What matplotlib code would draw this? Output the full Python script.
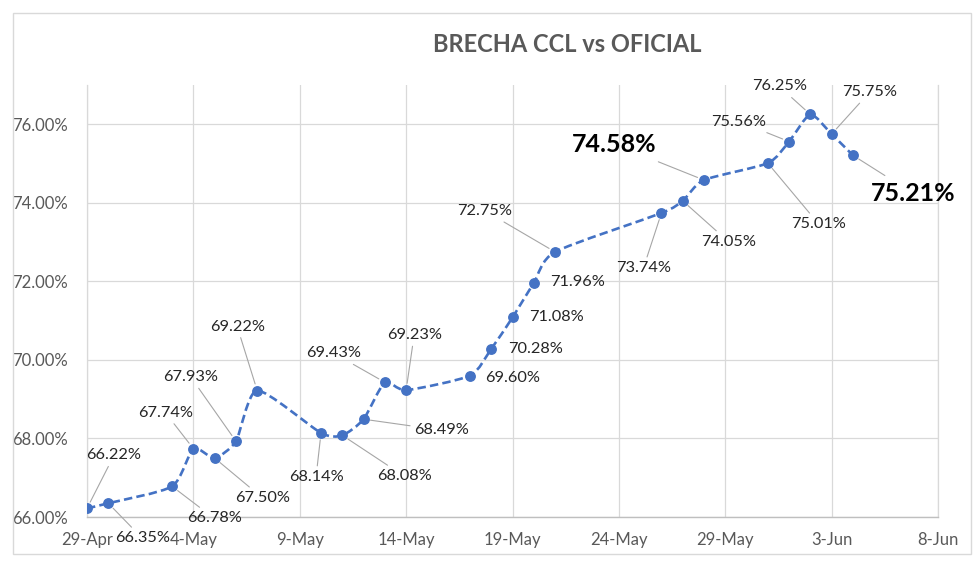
import datetime as dt
import numpy as np
import matplotlib
matplotlib.use("Agg")
import matplotlib.pyplot as plt
import matplotlib.dates as mdates
from matplotlib.path import Path
from matplotlib.patches import PathPatch, Rectangle

# ---------------- data ----------------
dates = ["2021-04-29", "2021-04-30", "2021-05-03", "2021-05-04", "2021-05-05",
         "2021-05-06", "2021-05-07", "2021-05-10", "2021-05-11", "2021-05-12",
         "2021-05-13", "2021-05-14", "2021-05-17", "2021-05-18", "2021-05-19",
         "2021-05-20", "2021-05-21", "2021-05-26", "2021-05-27", "2021-05-28",
         "2021-05-31", "2021-06-01", "2021-06-02", "2021-06-03", "2021-06-04"]
brecha = [66.22, 66.35, 66.78, 67.74, 67.50, 67.93, 69.22, 68.14, 68.08, 68.49,
          69.43, 69.23, 69.60, 70.28, 71.08, 71.96, 72.75, 73.74, 74.05, 74.58,
          75.01, 75.56, 76.25, 75.75, 75.21]
tick_dates = ["2021-04-29", "2021-05-04", "2021-05-09", "2021-05-14", "2021-05-19",
              "2021-05-24", "2021-05-29", "2021-06-03", "2021-06-08"]
tick_labels = ["29-Apr", "4-May", "9-May", "14-May", "19-May",
               "24-May", "29-May", "3-Jun", "8-Jun"]
y_ticks = [66, 68, 70, 72, 74, 76]
title = "BRECHA CCL vs OFICIAL"
highlight = [19, 24]  # labels shown big and bold

# label offsets in pixels (dx, dy) relative to each point
label_off = [(27, 53), (34, -35), (42, -32), (-28, 36), (48, -40), (-45, 64),
             (-20, 64), (-5, -44), (62, -41), (78, -11), (-51, 29), (8, 55),
             (43, -2), (44, 0), (44, 0), (44, 1), (-70, 41), (-18, -55),
             (46, -41), (-90, 36), (51, -61), (-50, 20), (-31, 28), (38, 42),
             (60, -38)]
no_leader = {12, 13, 14, 15}

# ---------------- figure ----------------
FONT = ["Lato", "DejaVu Sans"]
plt.rcParams["font.family"] = FONT
W, H = 980, 562
fig = plt.figure(figsize=(W / 100, H / 100), dpi=100)
fig.patch.set_facecolor("white")
ax = fig.add_axes([87 / W, 1 - 517 / H, (938 - 87) / W, (517 - 85) / H])

x = mdates.date2num([dt.date.fromisoformat(d) for d in dates])
y = np.array(brecha, dtype=float)
xt = mdates.date2num([dt.date.fromisoformat(d) for d in tick_dates])

# mildly smoothed line (cardinal spline through the points)
TENS = 1.0 / 9.0
verts = [(x[0], y[0])]
codes = [Path.MOVETO]
n = len(x)
for i in range(n - 1):
    p0 = np.array([x[max(i - 1, 0)], y[max(i - 1, 0)]])
    p1 = np.array([x[i], y[i]])
    p2 = np.array([x[i + 1], y[i + 1]])
    p3 = np.array([x[min(i + 2, n - 1)], y[min(i + 2, n - 1)]])
    c1 = p1 + (p2 - p0) * TENS
    c2 = p2 - (p3 - p1) * TENS
    verts += [tuple(c1), tuple(c2), tuple(p2)]
    codes += [Path.CURVE4] * 3
line_color = "#4472C4"
ax.add_patch(PathPatch(Path(verts, codes), fill=False, ec=line_color, lw=1.9,
                       linestyle=(0, (3.2, 1.6)), capstyle="butt", zorder=3))
ax.plot(x, y, "o", ls="none", color=line_color, ms=6.8, zorder=4)

ax.set_xlim(xt[0], xt[-1])
ax.set_ylim(66, 77)
ax.set_xticks(xt)
ax.set_xticklabels(tick_labels)
ax.set_yticks(y_ticks)
ax.set_yticklabels([f"{v:.2f}%" for v in y_ticks])
ax.tick_params(axis="both", length=0, labelsize=12, labelcolor="#595959")
ax.tick_params(axis="y", pad=14)
ax.tick_params(axis="x", pad=11)
ax.grid(True, color="#d9d9d9", lw=0.9)
ax.set_axisbelow(True)
ax.spines["top"].set_visible(False)
for s in ["left", "right"]:
    ax.spines[s].set_color("#d9d9d9")
    ax.spines[s].set_linewidth(0.9)
ax.spines["bottom"].set_color("#bfbfbf")
ax.spines["bottom"].set_linewidth(1.0)

# data labels
for i, (xi, yi) in enumerate(zip(x, y)):
    dx, dy = label_off[i]
    big = i in highlight
    ap = None
    if i not in no_leader:
        ap = dict(arrowstyle="-", color="#a6a6a6", lw=0.8, shrinkA=0, shrinkB=5)
    ax.annotate(f"{brecha[i]:.2f}%", xy=(xi, yi), xytext=(dx, dy),
                textcoords="offset pixels", ha="center", va="center",
                fontsize=18 if big else 11.8,
                fontweight="bold" if big else "normal",
                color="black" if big else "#262626",
                bbox=dict(boxstyle="square,pad=0.25", fc="none", ec="none"),
                arrowprops=ap, annotation_clip=False, zorder=5)

fig.text(567 / W, 1 - 45 / H, title, ha="center", va="center",
         fontsize=17, fontweight="bold", color="#595959")

# outer chart frame
fig.add_artist(Rectangle((13 / W, 1 - 554 / H), (971 - 13) / W, (554 - 13) / H,
                         transform=fig.transFigure, fill=False,
                         ec="#d9d9d9", lw=1.0))

fig.savefig("out.png", dpi=100, facecolor="white")
